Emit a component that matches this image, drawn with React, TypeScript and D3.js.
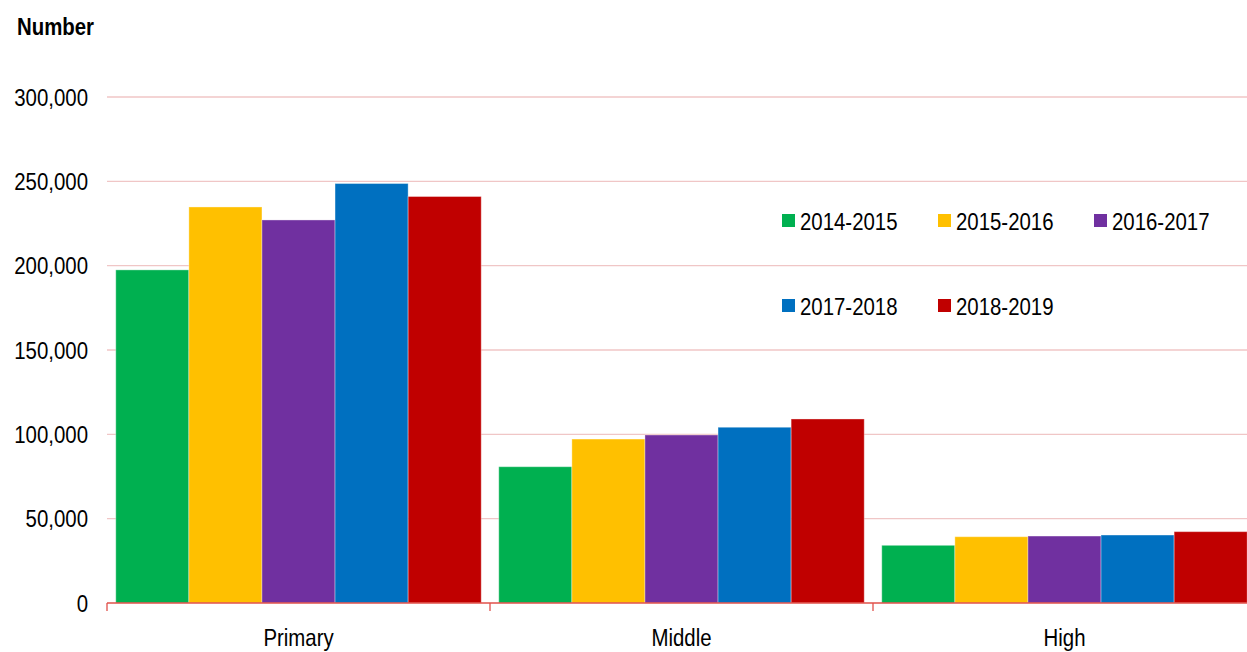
import React from 'react';
import * as d3 from 'd3';

const categories = ['Primary', 'Middle', 'High'];
const seriesNames = ['2014-2015', '2015-2016', '2016-2017', '2017-2018', '2018-2019'];
const seriesColors = ['#00b050', '#ffc000', '#7030a0', '#0070c0', '#c00000'];

// values per series, in category order (Primary, Middle, High)
const s2014 = [197500, 80800, 34200];
const s2015 = [234800, 97200, 39300];
const s2016 = [227100, 99600, 39700];
const s2017 = [248700, 104200, 40300];
const s2018 = [241000, 109100, 42300];
const seriesValues = [s2014, s2015, s2016, s2017, s2018];

const yTicks = [0, 50000, 100000, 150000, 200000, 250000, 300000];

const W = 1247;
const H = 652;
const FONT = '"Liberation Sans", Arial, sans-serif';
const SX = 0.85; // narrow look

function NText({ x, y, anchor = 'start', bold = false, children }: any) {
  return (
    <text
      transform={`translate(${x},${y}) scale(${SX},1)`}
      textAnchor={anchor}
      fontSize={24}
      fontWeight={bold ? 'bold' : 'normal'}
      fill="#000"
    >
      {children}
    </text>
  );
}

export default function App() {
  const left = 107;
  const right = 1256;
  const top = 97;
  const bottom = 603;

  const x0 = d3.scaleBand().domain(categories).range([left, right]).paddingInner(0).paddingOuter(0);
  const x1 = d3
    .scaleBand()
    .domain(seriesNames)
    .range([0, x0.bandwidth()])
    .paddingOuter(0.12)
    .paddingInner(0);
  const y = d3.scaleLinear().domain([0, 300000]).range([bottom, top]);
  const fmt = d3.format(',');

  const legendPos = [
    [782, 221],
    [938, 221],
    [1094, 221],
    [782, 306],
    [938, 306]
  ];

  return (
    <svg
      width={W}
      height={H}
      style={{ position: 'absolute', left: 0, top: 0, display: 'block', background: '#fff' }}
      fontFamily={FONT}
    >
      {/* grid */}
      {yTicks.slice(1).map(t => (
        <line key={t} x1={left} x2={right} y1={y(t)} y2={y(t)} stroke="#f0c6c6" strokeWidth={1.3} />
      ))}
      {/* y labels */}
      {yTicks.map(t => (
        <NText key={t} x={88} y={y(t) + 8.5} anchor="end">
          {fmt(t)}
        </NText>
      ))}
      <NText x={17} y={35} bold>
        Number
      </NText>

      {/* bars */}
      {seriesNames.map((s, si) =>
        categories.map((c, ci) => {
          const v = seriesValues[si][ci];
          return (
            <rect
              key={s + c}
              x={(x0(c) as number) + (x1(s) as number)}
              y={y(v)}
              width={x1.bandwidth()}
              height={bottom - y(v)}
              fill={seriesColors[si]}
              stroke="#ffffff"
              strokeOpacity={0.35}
              strokeWidth={1}
            />
          );
        })
      )}

      {/* x axis */}
      <line x1={left} x2={right} y1={bottom} y2={bottom} stroke="#e0504a" strokeWidth={1.5} />
      {categories.concat(['end']).map((c, i) => {
        const xx = left + i * x0.bandwidth();
        return <line key={c} x1={xx} x2={xx} y1={bottom} y2={bottom + 8} stroke="#e0504a" strokeWidth={1.3} />;
      })}
      {categories.map(c => (
        <NText key={c} x={(x0(c) as number) + x0.bandwidth() / 2} y={646} anchor="middle">
          {c}
        </NText>
      ))}

      {/* legend */}
      {seriesNames.map((s, i) => (
        <g key={s} transform={`translate(${legendPos[i][0]},${legendPos[i][1]})`}>
          <rect x={0} y={-7} width={13} height={13} fill={seriesColors[i]} />
          <NText x={18} y={8.5}>
            {s}
          </NText>
        </g>
      ))}
    </svg>
  );
}
